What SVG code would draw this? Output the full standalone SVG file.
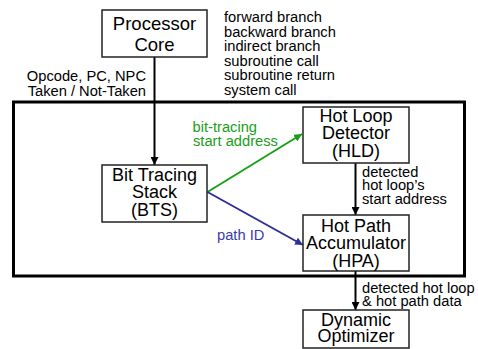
<svg xmlns="http://www.w3.org/2000/svg" width="478" height="349" viewBox="0 0 478 349">
  <style>
    .box { fill: #fff; stroke: #222; stroke-width: 1.5; }
    .frame { fill: none; stroke: #000; stroke-width: 3; }
    .title { font-family: "Liberation Sans", Arial, sans-serif; font-size: 18px; fill: #000; text-anchor: middle; }
    .lbl { font-family: "Liberation Sans", Arial, sans-serif; font-size: 14.7px; fill: #000; }
    .wire { fill: none; stroke: #000; stroke-width: 2; }
    .green { stroke: #17a017; }
    .blue { stroke: #2e2e9c; }
  </style>
  <defs>
    <marker id="ahBlack" viewBox="0 0 10 10" refX="10" refY="5" markerWidth="4" markerHeight="4" orient="auto" markerUnits="strokeWidth">
      <path d="M0,0 L10,5 L0,10 z" fill="#000"/>
    </marker>
    <marker id="ahGreen" viewBox="0 0 10 10" refX="10" refY="5" markerWidth="4" markerHeight="4" orient="auto" markerUnits="strokeWidth">
      <path d="M0,0 L10,5 L0,10 z" fill="#17a017"/>
    </marker>
    <marker id="ahBlue" viewBox="0 0 10 10" refX="10" refY="5" markerWidth="4" markerHeight="4" orient="auto" markerUnits="strokeWidth">
      <path d="M0,0 L10,5 L0,10 z" fill="#2e2e9c"/>
    </marker>
  </defs>

  <!-- enclosing hardware frame -->
  <rect class="frame" x="13.5" y="102" width="451" height="174"/>

  <!-- branch type list -->
  <g id="branch-types" class="lbl">
    <text x="224" y="22">forward branch</text>
    <text x="224" y="36.6">backward branch</text>
    <text x="224" y="51.2">indirect branch</text>
    <text x="224" y="65.8">subroutine call</text>
    <text x="224" y="80.4">subroutine return</text>
    <text x="224" y="95">system call</text>
  </g>

  <!-- connectors -->
  <g id="connectors">
    <line class="wire" x1="154.5" y1="57" x2="154.5" y2="165" marker-end="url(#ahBlack)"/>
    <line class="wire green" x1="207.5" y1="192" x2="302" y2="134" marker-end="url(#ahGreen)"/>
    <line class="wire blue" x1="207.5" y1="192" x2="303" y2="245" marker-end="url(#ahBlue)"/>
    <line class="wire" x1="355.5" y1="163" x2="355.5" y2="215" marker-end="url(#ahBlack)"/>
    <line class="wire" x1="355.5" y1="271" x2="355.5" y2="310" marker-end="url(#ahBlack)"/>

    <g class="lbl" text-anchor="end">
      <text x="146" y="81">Opcode, PC, NPC</text>
      <text x="146" y="95.5">Taken / Not-Taken</text>
    </g>
    <g class="lbl" fill="#17a017" style="fill:#17a017">
      <text x="192.5" y="131.5">bit-tracing</text>
      <text x="193" y="146">start address</text>
    </g>
    <text class="lbl" x="217" y="239.5" style="fill:#3b3bb0">path ID</text>
    <g class="lbl">
      <text x="362" y="176.5">detected</text>
      <text x="362" y="190.2">hot loop’s</text>
      <text x="362" y="204">start address</text>
    </g>
    <g class="lbl">
      <text x="362" y="293">detected hot loop</text>
      <text x="362" y="306">&amp; hot path data</text>
    </g>
  </g>

  <!-- nodes -->
  <g id="processor-core">
    <rect class="box" x="102" y="10" width="105" height="47"/>
    <text class="title" x="154.5" y="29.5" style="font-size:18.5px">Processor</text>
    <text class="title" x="154.5" y="50.5" style="font-size:18.5px">Core</text>
  </g>

  <g id="bts">
    <rect class="box" x="102" y="165" width="105" height="57"/>
    <text class="title" x="154.5" y="180.5">Bit Tracing</text>
    <text class="title" x="154.5" y="198">Stack</text>
    <text class="title" x="154.5" y="215.5">(BTS)</text>
  </g>

  <g id="hld">
    <rect class="box" x="303" y="107" width="106" height="56"/>
    <text class="title" x="356" y="121.7">Hot Loop</text>
    <text class="title" x="356" y="139.2">Detector</text>
    <text class="title" x="356" y="156.7">(HLD)</text>
  </g>

  <g id="hpa">
    <rect class="box" x="303" y="215" width="106" height="56"/>
    <text class="title" x="356" y="231.7">Hot Path</text>
    <text class="title" x="356" y="249.2">Accumulator</text>
    <text class="title" x="356" y="266.5">(HPA)</text>
  </g>

  <g id="dynamic-optimizer">
    <rect class="box" x="303" y="310" width="106" height="38"/>
    <text class="title" x="356" y="325.5">Dynamic</text>
    <text class="title" x="356" y="342">Optimizer</text>
  </g>
</svg>
